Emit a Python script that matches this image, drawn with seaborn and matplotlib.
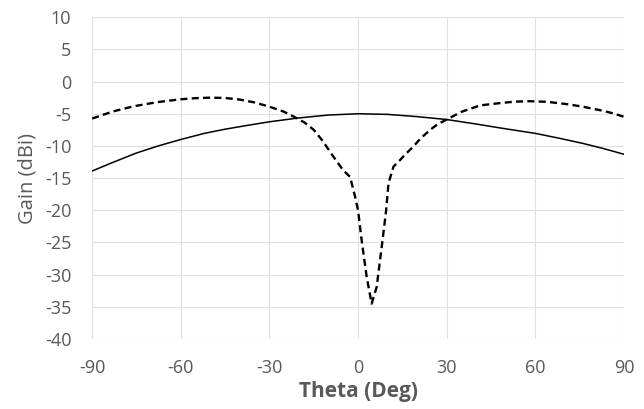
import matplotlib
matplotlib.use("Agg")
import matplotlib.pyplot as plt
import seaborn as sns
import pandas as pd

# Co-polarised gain (solid)
theta_co = [-90, -84, -75, -68, -60, -52, -45, -38, -30, -20, -10, 0, 10, 20, 30, 40, 48, 55, 60, 68, 76, 83, 90]
gain_co = [-13.9, -12.75, -11.1, -10.05, -9.0, -8.05, -7.4, -6.85, -6.25, -5.65, -5.2, -5.0, -5.1, -5.45, -5.9,
           -6.6, -7.2, -7.7, -8.05, -8.8, -9.6, -10.4, -11.3]

# Cross-polarised gain (dashed)
theta_x = [-90, -83, -76, -68, -60, -55, -50, -45, -40, -35, -30, -25, -20.7, -18, -15, -12, -8.3, -5, -2.7,
           -1, 0, 1.2, 2.9, 4.6, 6.3, 8, 9.5, 10.3, 12, 14.2, 16, 18.7, 21, 24.4, 27, 30, 35, 41.3, 48,
           53, 58, 64, 70.6, 76, 81.9, 86, 90]
gain_x = [-5.75, -4.65, -3.85, -3.2, -2.75, -2.58, -2.5, -2.55, -2.8, -3.25, -3.9, -4.7, -5.7, -6.4, -7.5,
          -9.2, -11.7, -13.8, -14.8, -17.9, -20.0, -24.6, -30.3, -34.5, -31.9, -25.7, -20.0, -15.8, -13.2,
          -12.2, -11.3, -10.1, -8.9, -7.5, -6.6, -5.9, -4.7, -3.7, -3.35, -3.12, -3.05, -3.15, -3.5, -3.9,
          -4.45, -4.9, -5.48]

df = pd.concat([
    pd.DataFrame({"Theta": theta_co, "Gain": gain_co, "Pol": "co"}),
    pd.DataFrame({"Theta": theta_x, "Gain": gain_x, "Pol": "cross"}),
], ignore_index=True)

sns.set_theme(style="white")
plt.rcParams["font.family"] = ["Open Sans", "DejaVu Sans"]
plt.rcParams["axes.unicode_minus"] = False

fig = plt.figure(figsize=(6.44, 4.09), dpi=100)
ax = fig.add_axes([0.143, 0.171, 0.826, 0.787])

sns.lineplot(data=df, x="Theta", y="Gain", style="Pol", ax=ax,
             dashes={"co": "", "cross": (3, 1.8)}, color="black",
             legend=False, sort=False, estimator=None)
for ln, lw in zip(ax.lines, [1.1, 1.7]):
    ln.set_linewidth(lw)
    ln.set_solid_joinstyle("round")

ax.set_xlim(-90, 90)
ax.set_ylim(-40, 10)
ax.set_xticks(range(-90, 91, 30))
ax.set_yticks(range(-40, 11, 5))
ax.grid(True, color="#e0e0e0", linewidth=0.8)
ax.set_axisbelow(True)
for s in ax.spines.values():
    s.set_visible(False)
ax.tick_params(axis="both", labelsize=13, colors="#595959", length=0)
ax.tick_params(axis="y", pad=15)
ax.tick_params(axis="x", pad=14)

ax.set_xlabel("Theta (Deg)", fontsize=15, fontweight="bold", color="#595959", labelpad=3)
ax.set_ylabel("Gain (dBi)", fontsize=14.5, color="#595959", labelpad=5)

fig.savefig("out.png", dpi=100, facecolor="white")
